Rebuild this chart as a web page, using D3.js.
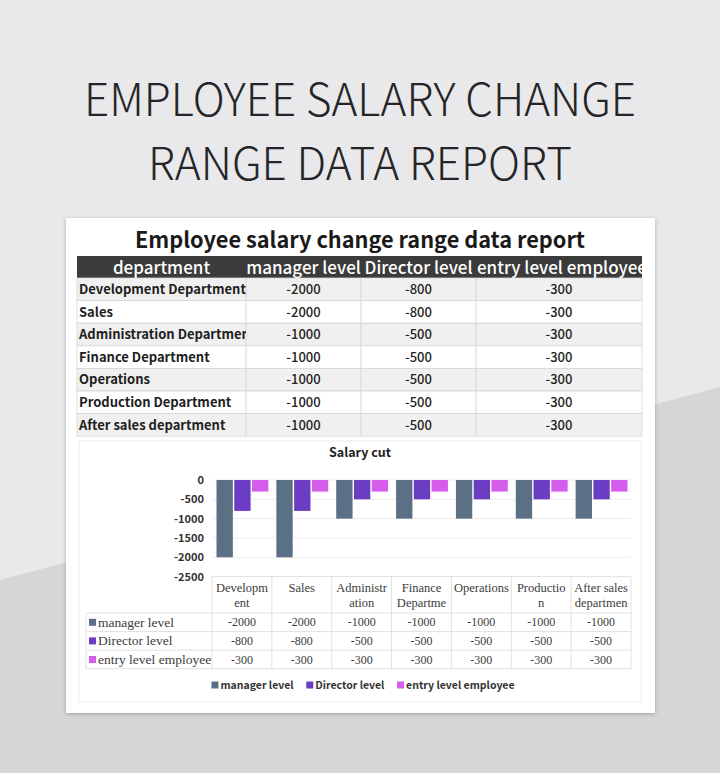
<!DOCTYPE html>
<html>
<head>
<meta charset="utf-8">
<script src="https://cdn.jsdelivr.net/npm/d3@7"></script>
<style>
  body { margin: 0; background: #e9e9eb; }
  svg { display: block; }
</style>
</head>
<body>
<svg id="chart" width="720" height="773"></svg>
<script>
// ---- data ----
var pageTitle = ["EMPLOYEE SALARY CHANGE", "RANGE DATA REPORT"];
var cardTitle = "Employee salary change range data report";
var tableHead = ["department", "manager level", "Director level", "entry level employee"];
var departments = ["Development Department", "Sales", "Administration Department", "Finance Department",
                   "Operations", "Production Department", "After sales department"];
var levels = ["manager level", "Director level", "entry level employee"];
var manager  = [-2000, -2000, -1000, -1000, -1000, -1000, -1000];
var director = [-800, -800, -500, -500, -500, -500, -500];
var entry    = [-300, -300, -300, -300, -300, -300, -300];
// category labels as they wrap under the chart
var catLines = [["Developm", "ent"], ["Sales"], ["Administr", "ation"], ["Finance", "Departme"],
                ["Operations"], ["Productio", "n"], ["After sales", "departmen"]];
var yTicks = [0, -500, -1000, -1500, -2000, -2500];
var chartTitle = "Salary cut";

var series = [manager, director, entry];
var colors = ["#5b7084", "#6a3dc2", "#d65cec"];

var svg = d3.select("#chart");
var sans = "'Noto Sans CJK SC', 'Noto Sans', sans-serif";
var serif = "'Liberation Serif', 'DejaVu Serif', serif";

//////////////////////////////////////////////////////////////////
// background + card

var defs = svg.append("defs");
var shadow = defs.append("filter").attr("id", "shadow")
    .attr("x", "-5%").attr("y", "-5%").attr("width", "110%").attr("height", "110%");
shadow.append("feDropShadow")
    .attr("dx", 0).attr("dy", 1).attr("stdDeviation", 2)
    .attr("flood-color", "#000").attr("flood-opacity", 0.25);

svg.append("rect").attr("width", 720).attr("height", 773).attr("fill", "#e9e9eb");
svg.append("polygon")
    .attr("points", "0,580 720,387 720,773 0,773")
    .attr("fill", "#d6d6d9");

svg.selectAll("text.pagetitle")
    .data(pageTitle).enter().append("text")
    .attr("class", "pagetitle")
    .attr("x", 360)
    .attr("y", function(d, i) { return 116 + i * 64; })
    .attr("text-anchor", "middle")
    .attr("font-family", sans)
    .attr("font-weight", 300)
    .attr("font-size", 45)
    .attr("fill", "#252528")
    .attr("textLength", function(d, i) { return i == 0 ? 552 : 424; })
    .attr("lengthAdjust", "spacingAndGlyphs")
    .text(function(d) { return d; });

svg.append("rect")
    .attr("x", 66).attr("y", 218).attr("width", 589).attr("height", 495)
    .attr("fill", "#fff")
    .attr("filter", "url(#shadow)");

svg.append("text")
    .attr("x", 360).attr("y", 248)
    .attr("text-anchor", "middle")
    .attr("font-family", sans)
    .attr("font-weight", "bold")
    .attr("font-size", 22)
    .attr("fill", "#1a1a1a")
    .attr("textLength", 450)
    .attr("lengthAdjust", "spacingAndGlyphs")
    .text(cardTitle);

//////////////////////////////////////////////////////////////////
// top table

var colEdges = [77, 246, 361, 476, 642];
var rowTop = 278, rowH = 22.6;

svg.append("rect")
    .attr("x", 77).attr("y", 256).attr("width", 565).attr("height", 22)
    .attr("fill", "#3b3b3b");

defs.selectAll("clipPath.col")
    .data(d3.range(4)).enter().append("clipPath")
    .attr("id", function(i) { return "col" + i; })
    .append("rect")
    .attr("x", function(i) { return colEdges[i]; })
    .attr("y", 250)
    .attr("width", function(i) { return colEdges[i + 1] - colEdges[i]; })
    .attr("height", 200);

svg.selectAll("text.head")
    .data(tableHead).enter().append("text")
    .attr("class", "head")
    .attr("clip-path", function(d, i) { return "url(#col" + i + ")"; })
    .attr("x", function(d, i) { return i == 3 ? colEdges[3] + 1 : (colEdges[i] + colEdges[i + 1]) / 2; })
    .attr("y", 273.5)
    .attr("text-anchor", function(d, i) { return i == 3 ? "start" : "middle"; })
    .attr("font-family", sans)
    .attr("font-weight", 500)
    .attr("font-size", 17)
    .attr("fill", "#fff")
    .text(function(d) { return d; });

var rows = svg.append("g");
rows.selectAll("rect")
    .data(departments).enter().append("rect")
    .attr("x", 77)
    .attr("y", function(d, i) { return rowTop + i * rowH; })
    .attr("width", 565)
    .attr("height", rowH)
    .attr("fill", function(d, i) { return i % 2 == 0 ? "#f0f0f0" : "#fff"; })
    .attr("stroke", "#d6d6d6")
    .attr("stroke-width", 0.8);

rows.selectAll("line")
    .data(colEdges.slice(1, 4)).enter().append("line")
    .attr("x1", function(d) { return d; }).attr("x2", function(d) { return d; })
    .attr("y1", rowTop).attr("y2", rowTop + departments.length * rowH)
    .attr("stroke", "#d6d6d6");

rows.selectAll("text.dept")
    .data(departments).enter().append("text")
    .attr("class", "dept")
    .attr("clip-path", "url(#col0)")
    .attr("x", 79)
    .attr("y", function(d, i) { return rowTop + i * rowH + 16; })
    .attr("font-family", sans)
    .attr("font-weight", "bold")
    .attr("font-size", 13)
    .attr("fill", "#1e1e1e")
    .text(function(d) { return d; });

series.forEach(function(s, j) {
    rows.selectAll("text.v" + j)
        .data(s).enter().append("text")
        .attr("class", "v" + j)
        .attr("x", (colEdges[j + 1] + colEdges[j + 2]) / 2)
        .attr("y", function(d, i) { return rowTop + i * rowH + 16; })
        .attr("text-anchor", "middle")
        .attr("font-family", sans)
        .attr("font-weight", 500)
        .attr("font-size", 13)
        .attr("fill", "#222")
        .text(function(d) { return d; });
});

//////////////////////////////////////////////////////////////////
// chart

svg.append("rect")
    .attr("x", 79).attr("y", 441).attr("width", 562).attr("height", 261)
    .attr("fill", "none").attr("stroke", "#ececec");

svg.append("text")
    .attr("x", 360).attr("y", 457)
    .attr("text-anchor", "middle")
    .attr("font-family", sans)
    .attr("font-weight", "bold")
    .attr("font-size", 12.5)
    .attr("fill", "#222")
    .text(chartTitle);

var x0 = d3.scaleBand().domain(d3.range(departments.length)).range([212, 631]);
var x1 = d3.scaleBand().domain(levels).range([4.5, x0.bandwidth() - 3.5]).paddingInner(0.08);
var y = d3.scaleLinear().domain([-2500, 0]).range([576.6, 480]);

svg.append("g").selectAll("line")
    .data(yTicks).enter().append("line")
    .attr("x1", 212).attr("x2", 631)
    .attr("y1", function(d) { return y(d); })
    .attr("y2", function(d) { return y(d); })
    .attr("stroke", "#ececec");

var yAxis = d3.axisLeft(y).tickValues(yTicks).tickSize(0).tickPadding(4)
    .tickFormat(function(d) { return String(d); });
var ya = svg.append("g")
    .attr("transform", "translate(208,0)")
    .call(yAxis);
ya.select(".domain").remove();
ya.selectAll("text")
    .attr("font-family", sans)
    .attr("font-weight", "bold")
    .attr("font-size", 11)
    .attr("fill", "#333");

series.forEach(function(s, j) {
    svg.append("g").selectAll("rect")
        .data(s).enter().append("rect")
        .attr("x", function(d, i) { return x0(i) + x1(levels[j]); })
        .attr("y", y(0))
        .attr("width", x1.bandwidth())
        .attr("height", function(d) { return y(d) - y(0); })
        .attr("fill", colors[j]);
});

// data table under the chart
var tblTop = y(-2500), hdrBot = 613, tRowH = 18.6;
var tbl = svg.append("g");
var vEdges = d3.range(departments.length + 1).map(function(i) { return 212 + i * x0.step(); });

tbl.selectAll("line.v")
    .data(vEdges).enter().append("line")
    .attr("class", "v")
    .attr("x1", function(d) { return d; }).attr("x2", function(d) { return d; })
    .attr("y1", tblTop).attr("y2", hdrBot + 3 * tRowH)
    .attr("stroke", "#e2e2e2");
tbl.append("line")
    .attr("x1", 86).attr("x2", 86)
    .attr("y1", hdrBot).attr("y2", hdrBot + 3 * tRowH)
    .attr("stroke", "#e2e2e2");
tbl.selectAll("line.h")
    .data(d3.range(4)).enter().append("line")
    .attr("class", "h")
    .attr("x1", 86).attr("x2", 631)
    .attr("y1", function(i) { return hdrBot + i * tRowH; })
    .attr("y2", function(i) { return hdrBot + i * tRowH; })
    .attr("stroke", "#e2e2e2");
tbl.append("line")
    .attr("x1", 212).attr("x2", 631)
    .attr("y1", tblTop).attr("y2", tblTop)
    .attr("stroke", "#e2e2e2");

catLines.forEach(function(lines, i) {
    tbl.selectAll(null)
        .data(lines).enter().append("text")
        .attr("x", x0(i) + x0.bandwidth() / 2)
        .attr("y", function(d, k) { return 592 + k * 15; })
        .attr("text-anchor", "middle")
        .attr("font-family", serif)
        .attr("font-size", 12.5)
        .attr("fill", "#3c3c3c")
        .text(function(d) { return d; });
});

series.forEach(function(s, j) {
    var cy = hdrBot + j * tRowH + tRowH / 2;
    tbl.selectAll(null)
        .data(s).enter().append("text")
        .attr("x", function(d, i) { return x0(i) + x0.bandwidth() / 2; })
        .attr("y", cy + 4)
        .attr("text-anchor", "middle")
        .attr("font-family", serif)
        .attr("font-size", 12)
        .attr("fill", "#3c3c3c")
        .text(function(d) { return d; });
    tbl.append("rect")
        .attr("x", 89).attr("y", cy - 3.5).attr("width", 7).attr("height", 7)
        .attr("fill", colors[j]);
    tbl.append("text")
        .attr("x", 98).attr("y", cy + 4.5)
        .attr("font-family", serif)
        .attr("font-size", 13.5)
        .attr("fill", "#3c3c3c")
        .text(levels[j]);
});

// legend along the bottom
var leg = svg.append("g").attr("transform", "translate(0,685)");
var items = leg.selectAll("g")
    .data(levels).enter().append("g");
items.append("rect")
    .attr("y", -3.5).attr("width", 7).attr("height", 7)
    .attr("fill", function(d, i) { return colors[i]; });
items.append("text")
    .attr("x", 9).attr("y", 4)
    .attr("font-family", sans)
    .attr("font-weight", "bold")
    .attr("font-size", 10.5)
    .attr("fill", "#333")
    .text(function(d) { return d; });
var widths = [];
items.each(function() { widths.push(this.getBBox().width); });
var gap = 12, total = d3.sum(widths) + gap * (widths.length - 1);
var cx = 363 - total / 2;
items.attr("transform", function(d, i) {
    var px = cx;
    cx += widths[i] + gap;
    return "translate(" + px + ",0)";
});
</script>
</body>
</html>
